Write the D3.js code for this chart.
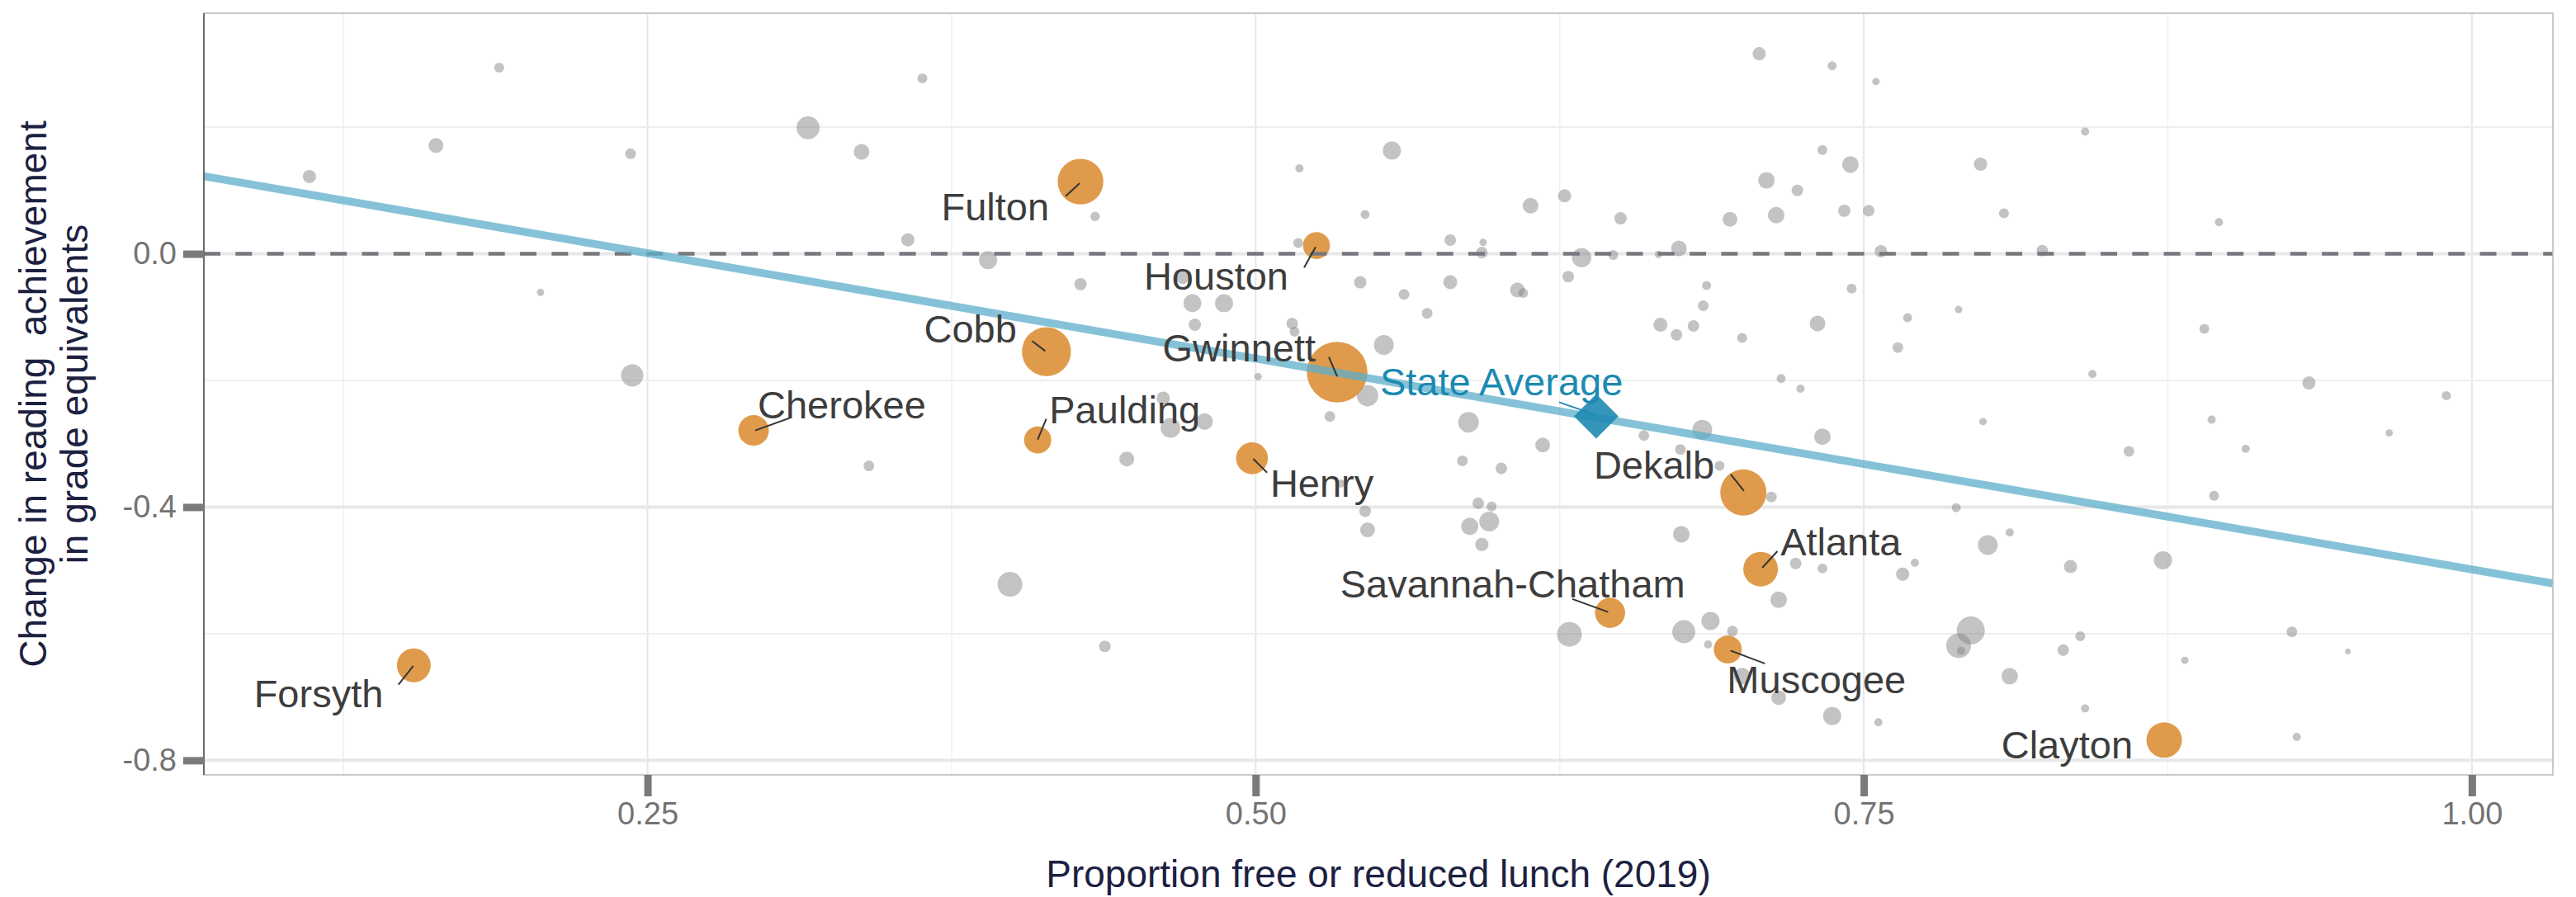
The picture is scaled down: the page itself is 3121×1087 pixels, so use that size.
<!DOCTYPE html>
<html>
<head>
<meta charset="utf-8">
<script src="https://cdn.jsdelivr.net/npm/d3@7"></script>
<style>
  body { margin: 0; background: #ffffff; }
  text { font-family: "Liberation Sans", Arial, sans-serif; }
</style>
</head>
<body>
<svg id="chart"></svg>
<script>
var width = 3121;
var height = 1087;
var margin = {top: 16, right: 28, bottom: 148, left: 247};

// unlabelled districts: share free/reduced lunch, change in grade equivalents, enrollment (thousands)
var otherFrl = [0.434,0.518,0.545,0.390,0.357,0.5175,0.428,0.470,0.474,0.487,0.475,0.515,0.516,0.543,0.501,0.546,0.462,0.465,0.479,0.447,0.399,0.438,0.5305,0.535,0.545,0.546,
  0.707,0.556,0.613,0.627,0.650,0.695,0.710,0.580,0.5935,0.593,0.634,0.647,0.6656,0.674,0.580,0.561,0.5705,0.6076,0.610,0.6285,0.5527,0.6854,0.684,0.6664,0.673,0.680,0.700,
  0.737,0.755,0.841,0.733,0.7445,0.7227,0.714,0.742,0.752,0.798,0.8076,0.757,0.8234,0.745,0.731,0.768,0.789,0.764,0.844,0.716,0.724,
  0.5875,0.618,0.585,0.601,0.6596,0.6836,0.6746,0.6907,0.5915,0.597,0.588,0.596,0.593,0.675,0.629,0.676,0.687,0.696,0.686,0.700,
  0.733,0.799,0.859,0.712,0.788,0.810,0.801,0.835,0.722,0.733,0.766,0.771,0.715,0.794,0.789,0.790,0.839,0.832,0.810,0.841,0.715,0.737,0.756,
  0.896,0.890,0.933,0.9895,0.893,0.966,0.907,0.894,0.873,0.926,0.949,0.882,0.928,
  0.189,0.111,0.163,0.243,0.316,0.338,0.206,0.2437,0.363,0.341];
var otherChange = [0.059,0.135,0.062,-0.010,0.022,0.017,-0.048,-0.038,-0.078,-0.078,-0.112,-0.110,-0.123,-0.045,-0.194,-0.224,-0.228,-0.275,-0.265,-0.324,-0.522,-0.620,-0.257,-0.363,-0.4065,-0.436,
  0.316,0.163,0.076,0.0915,0.056,0.0545,0.116,0.0215,0.018,0.002,-0.006,-0.002,-0.001,0.0085,-0.045,-0.064,-0.094,-0.057,-0.062,-0.036,-0.144,-0.050,-0.082,-0.112,-0.128,-0.114,-0.133,
  0.297,0.272,0.193,0.164,0.141,0.100,0.061,0.068,0.068,0.1415,0.064,0.004,0.005,-0.055,-0.110,-0.101,-0.088,-0.148,-0.190,-0.197,-0.213,
  -0.266,-0.302,-0.327,-0.339,-0.287,-0.278,-0.309,-0.335,-0.394,-0.399,-0.4305,-0.423,-0.459,-0.443,-0.601,-0.597,-0.580,-0.596,-0.617,-0.667,
  -0.289,-0.265,-0.312,-0.384,-0.401,-0.440,-0.460,-0.494,-0.489,-0.497,-0.506,-0.488,-0.5465,-0.595,-0.619,-0.627,-0.604,-0.626,-0.667,-0.718,-0.701,-0.730,-0.740,
  0.050,-0.1185,-0.204,-0.224,-0.262,-0.283,-0.308,-0.382,-0.484,-0.597,-0.628,-0.642,-0.763,
  0.294,0.122,0.171,0.158,0.199,0.161,-0.061,-0.192,0.277,-0.335];
var otherEnroll = [4.3,3.3,4.0,16.2,8.6,4.8,7.5,7.5,15.6,16,7.5,6.6,4.8,7.5,2.7,22.6,8.6,19.3,13.4,10.8,30.1,6.6,5.6,3.3,6.6,10.8,
  8.6,16.2,12.1,8.6,7.5,10.8,13.4,6.6,2.7,6.6,18.3,4.8,2.7,12.1,9.7,5.6,5.6,10.8,4.8,6.6,19.3,4.0,5.6,9.7,6.6,6.6,4.8,
  4.0,2.7,3.3,4.8,13.4,6.6,13.4,7.5,6.6,8.6,4.8,7.5,6.6,4.8,12.1,4.0,2.7,5.6,3.3,4.0,3.3,
  20.9,10.8,5.6,6.6,5.6,19.3,5.6,4.8,6.6,4.8,14.7,19.3,8.6,13.4,30.1,26.2,16.2,5.6,3.3,13.4,
  13.4,2.7,5.6,5.6,4.0,3.3,19.3,8.6,6.6,4.8,8.6,3.3,13.4,38.6,30.1,3.3,4.8,6.6,13.4,3.3,10.8,16.2,3.3,
  3.3,4.8,8.6,4.0,3.3,2.7,3.3,4.8,16.2,5.6,1.6,2.7,3.3,
  4.8,8.6,10.8,5.6,26,12.1,2.7,24.4,4.8,5.6];

// highlighted districts
var namedDistricts = ["Fulton","Houston","Cobb","Gwinnett","Cherokee","Paulding","Henry","Dekalb","Atlanta","Savannah-Chatham","Muscogee","Clayton","Forsyth"];
var namedFrl =    [0.428, 0.525, 0.414, 0.5335, 0.2936, 0.4104, 0.4985, 0.7005, 0.7076, 0.6457, 0.6941, 0.8735, 0.1539];
var namedChange = [0.114, 0.013, -0.1545, -0.187, -0.279, -0.294, -0.323, -0.377, -0.498, -0.567, -0.625, -0.768, -0.650];
var namedEnroll = [102.6, 35.5, 118, 180, 45.8, 36, 49.8, 104.8, 59, 44.8, 38.6, 61.8, 56.2];

var stateAvgFrl = 0.640;
var stateAvgChange = -0.2566;

// fitted line: change = intercept + slope * frl
var fitIntercept = 0.1675;
var fitSlope = -0.666;

var xTicks = [0.25, 0.50, 0.75, 1.00];
var xMinor = [0.125, 0.375, 0.625, 0.875];
var yTicks = [0.0, -0.4, -0.8];
var yMinor = [0.2, -0.2, -0.6];

// label placement (pixels, relative to the point) - mimics the repel layout
var labelLayout = {
  "Fulton":           {dx: -38, dy: 47,  anchor: "end",   seg: [-18, 17.6, -1, 2]},
  "Houston":          {dx: -34, dy: 53,  anchor: "end",   seg: [-15, 26.6, -1, 1.6]},
  "Cobb":             {dx: -36, dy: -11, anchor: "end",   seg: [-17.4, -12.8, -1.5, -0.7]},
  "Gwinnett":         {dx: -26, dy: -13, anchor: "end",   seg: [-10, -18.3, 0, 5]},
  "Cherokee":         {dx: 5,   dy: -15, anchor: "start", seg: [45, -15.5, 2, 0]},
  "Paulding":         {dx: 14,  dy: -20, anchor: "start", seg: [10.4, -25.6, 0, -0.6]},
  "Henry":            {dx: 22,  dy: 47,  anchor: "start", seg: [18.3, 17.4, 1.6, 0.7]},
  "Dekalb":           {dx: -35, dy: -17, anchor: "end",   seg: [-15.3, -22, 0.7, -2]},
  "Atlanta":          {dx: 24,  dy: -17, anchor: "start", seg: [20.3, -21.6, 2, -1.6]},
  "Savannah-Chatham": {dx: 91,  dy: -19, anchor: "end",   seg: [-45.7, -16.7, -2.4, -1]},
  "Muscogee":         {dx: -1,  dy: 53,  anchor: "start", seg: [3.3, 1.3, 45, 17]},
  "Clayton":          {dx: -38, dy: 22,  anchor: "end",   seg: null},
  "Forsyth":          {dx: -37, dy: 51,  anchor: "end",   seg: [-18.5, 23.4, -0.6, 0.7]}
};

var innerW = width - margin.left - margin.right;
var innerH = height - margin.top - margin.bottom;

var x = d3.scaleLinear().domain([0.0676, 1.0333]).range([0, innerW]);
var y = d3.scaleLinear().domain([-0.823, 0.380]).range([innerH, 0]);
var r = d3.scaleSqrt().domain([0, 180]).range([0, 36.7]);

var svg = d3.select("#chart")
    .attr("width", width)
    .attr("height", height)
    .style("background", "#ffffff");

svg.append("rect").attr("width", width).attr("height", height).attr("fill", "#ffffff");

var g = svg.append("g").attr("transform", "translate(" + margin.left + "," + margin.top + ")");

// grid
g.selectAll(".vminor").data(xMinor).enter().append("line")
    .attr("x1", d => x(d)).attr("x2", d => x(d))
    .attr("y1", 0).attr("y2", innerH)
    .attr("stroke", "#f0f0f0").attr("stroke-width", 1.5);
g.selectAll(".vmajor").data(xTicks).enter().append("line")
    .attr("x1", d => x(d)).attr("x2", d => x(d))
    .attr("y1", 0).attr("y2", innerH)
    .attr("stroke", "#e6e6e6").attr("stroke-width", 2);
g.selectAll(".hminor").data(yMinor).enter().append("line")
    .attr("x1", 0).attr("x2", innerW)
    .attr("y1", d => y(d)).attr("y2", d => y(d))
    .attr("stroke", "#eeeeee").attr("stroke-width", 2);
g.selectAll(".hmajor").data(yTicks).enter().append("line")
    .attr("x1", 0).attr("x2", innerW)
    .attr("y1", d => y(d)).attr("y2", d => y(d))
    .attr("stroke", "#e8e8e8").attr("stroke-width", 4);

// unlabelled districts
var others = otherFrl.map(function (f, i) {
  return {frl: f, change: otherChange[i], enroll: otherEnroll[i]};
});
g.selectAll(".other").data(others).enter().append("circle")
    .attr("class", "other")
    .attr("cx", d => x(d.frl))
    .attr("cy", d => y(d.change))
    .attr("r", d => r(d.enroll))
    .attr("fill", "#828282")
    .attr("fill-opacity", 0.48);

// highlighted districts
var named = namedDistricts.map(function (n, i) {
  return {name: n, frl: namedFrl[i], change: namedChange[i], enroll: namedEnroll[i]};
});
g.selectAll(".named").data(named).enter().append("circle")
    .attr("class", "named")
    .attr("cx", d => x(d.frl))
    .attr("cy", d => y(d.change))
    .attr("r", d => r(d.enroll))
    .attr("fill", "#dc9037")
    .attr("fill-opacity", 0.9);

// zero reference
g.append("line")
    .attr("x1", 0).attr("x2", innerW)
    .attr("y1", y(0)).attr("y2", y(0))
    .attr("stroke", "#77777f")
    .attr("stroke-width", 4.5)
    .attr("stroke-dasharray", "20,18.3");

// fitted line
var xd = x.domain();
g.append("line")
    .attr("x1", x(xd[0])).attr("y1", y(fitIntercept + fitSlope * xd[0]))
    .attr("x2", x(xd[1])).attr("y2", y(fitIntercept + fitSlope * xd[1]))
    .attr("stroke", "#5caec9")
    .attr("stroke-opacity", 0.75)
    .attr("stroke-width", 9.5);

// state average
var sx = x(stateAvgFrl), sy = y(stateAvgChange);
g.append("path")
    .attr("d", d3.symbol(d3.symbolSquare, 1460)())
    .attr("transform", "translate(" + sx + "," + sy + ") rotate(45)")
    .attr("fill", "#1f8ab2")
    .attr("fill-opacity", 0.9);
g.append("line")
    .attr("x1", sx - 45).attr("y1", sy - 17)
    .attr("x2", sx - 2).attr("y2", sy - 2)
    .attr("stroke", "#1f8ab2").attr("stroke-width", 2);
g.append("text")
    .attr("x", sx - 262).attr("y", sy - 25)
    .attr("fill", "#1b8ab1")
    .style("font-size", "47px")
    .text("State Average");

// labels with leader lines
named.forEach(function (d) {
  var L = labelLayout[d.name];
  var px = x(d.frl), py = y(d.change);
  if (L.seg) {
    g.append("line")
        .attr("x1", px + L.seg[0]).attr("y1", py + L.seg[1])
        .attr("x2", px + L.seg[2]).attr("y2", py + L.seg[3])
        .attr("stroke", "#333333").attr("stroke-width", 2);
  }
  g.append("text")
      .attr("x", px + L.dx).attr("y", py + L.dy)
      .attr("text-anchor", L.anchor)
      .attr("fill", "#3d3d3d")
      .style("font-size", "47px")
      .text(d.name);
});

// panel border
g.append("rect")
    .attr("width", innerW).attr("height", innerH)
    .attr("fill", "none")
    .attr("stroke", "#b8b8b8").attr("stroke-width", 1.5);
g.append("line")
    .attr("x1", 0).attr("x2", 0).attr("y1", 0).attr("y2", innerH)
    .attr("stroke", "#4a4a4a").attr("stroke-width", 1.5);

// axes
var yAxis = g.append("g")
    .call(d3.axisLeft(y).tickValues(yTicks).tickFormat(d => d.toFixed(1)).tickSize(25).tickPadding(8));
var xAxis = g.append("g")
    .attr("transform", "translate(0," + innerH + ")")
    .call(d3.axisBottom(x).tickValues(xTicks).tickFormat(d => d.toFixed(2)).tickSize(26).tickPadding(7));
[yAxis, xAxis].forEach(function (a) {
  a.select(".domain").remove();
  a.selectAll(".tick line").attr("stroke", "#7a7a7a").attr("stroke-width", 9);
  a.selectAll(".tick text")
      .attr("fill", "#737373")
      .style("font-size", "38px")
      .style("font-family", "'Liberation Sans', Arial, sans-serif");
});

// axis titles
svg.append("text")
    .attr("x", margin.left + innerW / 2)
    .attr("y", 1075)
    .attr("text-anchor", "middle")
    .attr("fill", "#1c2141")
    .style("font-size", "46px")
    .text("Proportion free or reduced lunch (2019)");

var ytitle = svg.append("text")
    .attr("transform", "translate(0," + (margin.top + innerH / 2) + ") rotate(-90)")
    .attr("text-anchor", "middle")
    .attr("fill", "#1c2141")
    .style("font-size", "46px")
    .style("white-space", "pre");
ytitle.append("tspan").attr("x", 0).attr("y", 56).text("Change in reading  achievement");
ytitle.append("tspan").attr("x", 0).attr("y", 106).text("in grade equivalents");
</script>
</body>
</html>
